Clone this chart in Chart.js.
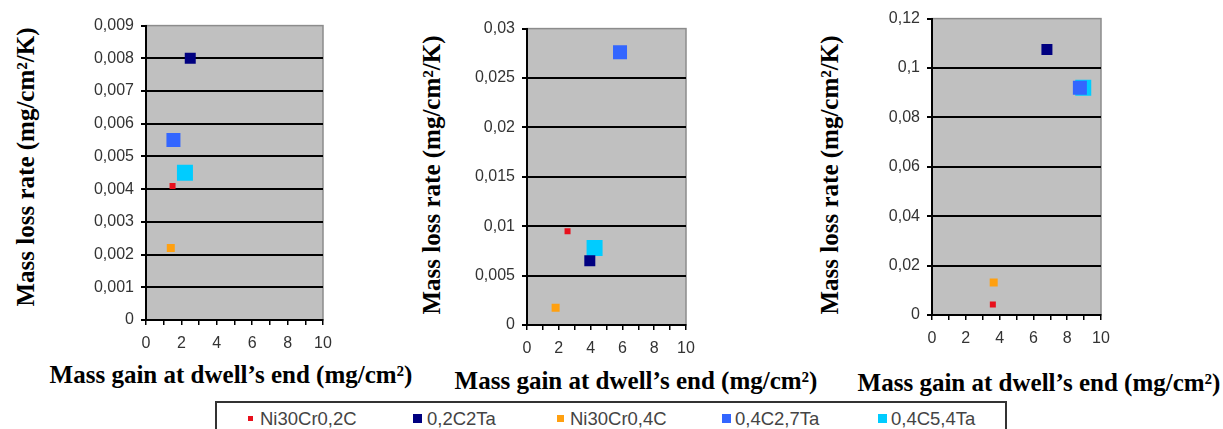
<!DOCTYPE html>
<html>
<head>
<meta charset="utf-8">
<script src="https://cdn.jsdelivr.net/npm/chart.js@4.4.1/dist/chart.umd.min.js"></script>
<style>
  html, body { margin: 0; padding: 0; background: #ffffff; }
  #wrap { position: relative; width: 1223px; height: 429px; overflow: hidden; background: #ffffff; }
  canvas { position: absolute; }
  .ttl { position: absolute; white-space: nowrap; font-family: "Liberation Serif", "Times New Roman", serif; font-weight: bold; font-size: 25px; color: #000; line-height: 1; }
  .ytl { transform: translate(-50%, -50%) rotate(-90deg); }
  .xtl { transform: translate(-50%, -50%); }
  #legend { position: absolute; left: 215px; top: 401px; width: 792px; height: 40px; border: 2px solid #333; box-sizing: border-box; }
  #legend .item { position: absolute; top: 6px; display: flex; align-items: center; font-family: "Liberation Sans", Arial, sans-serif; font-size: 18.5px; color: #444; line-height: 19px; white-space: nowrap; }
  #legend .mk { display: inline-block; }
</style>
</head>
<body>
<div id="wrap">
  <canvas id="c1"></canvas>
  <canvas id="c2"></canvas>
  <canvas id="c3"></canvas>
  <div id="legend"></div>
</div>
<script>
// ---- data ----
const seriesNames = ['Ni30Cr0,2C', '0,2C2Ta', 'Ni30Cr0,4C', '0,4C2,7Ta', '0,4C5,4Ta'];

const chart1X = [1.5, 2.5, 1.4, 1.55, 2.2];
const chart1Y = [0.0041, 0.008, 0.0022, 0.0055, 0.0045];

const chart2X = [2.55, 3.95, 1.8, 5.85, 4.25];
const chart2Y = [0.0095, 0.0065, 0.00175, 0.0276, 0.0078];

const chart3X = [3.6, 6.8, 3.65, 8.75, 8.95];
const chart3Y = [0.0043, 0.1075, 0.0132, 0.092, 0.092];

const xTitle = 'Mass gain at dwell\u2019s end (mg/cm\u00b2)';
const yTitle = 'Mass loss rate (mg/cm\u00b2/K)';

const yMax = [0.009, 0.03, 0.12];
const yStep = [0.001, 0.005, 0.02];
const xMax = 10;

// ---- styles ----
const seriesColors = ['#E8101C', '#000080', '#FFA010', '#3366FF', '#00CCFF'];
const pointSide = [6, 11, 8, 14, 16];
const legendSide = [5, 9, 7, 9, 9];
const legendLeft = [33, 198, 342, 507, 663];   // marker left, relative to legend box
const legendGap = [7, 5, 6, 4, 4];

// plot area boxes [left, right, top, bottom]
const boxes = [
  [146, 323, 25, 320],
  [527, 686, 28, 325],
  [932, 1101, 18, 315]
];
const yTitlePos = [[25, 167], [431, 175], [829, 175]];
const xTitlePos = [[231, 374], [636, 380], [1039, 382]];

const LEFT = 70, TOPPAD = 16, RIGHTPAD = 26, BOTTOM = 40;

function fmt(v) {
  let s = (+v.toFixed(5)).toString();
  return s.replace('.', ',');
}

const plotBg = {
  id: 'plotBg',
  beforeDraw(chart) {
    const a = chart.chartArea, ctx = chart.ctx;
    ctx.save();
    ctx.fillStyle = '#C0C0C0';
    ctx.fillRect(a.left, a.top, a.right - a.left, a.bottom - a.top);
    ctx.strokeStyle = '#8c8c8c';
    ctx.lineWidth = 1.5;
    ctx.strokeRect(a.left, a.top, a.right - a.left, a.bottom - a.top);
    ctx.restore();
  }
};

const allX = [chart1X, chart2X, chart3X];
const allY = [chart1Y, chart2Y, chart3Y];

for (let k = 0; k < 3; k++) {
  const [L, R, T, B] = boxes[k];
  const cv = document.getElementById('c' + (k + 1));
  const w = R - L + LEFT + RIGHTPAD;
  const h = B - T + TOPPAD + BOTTOM;
  cv.width = w; cv.height = h;
  cv.style.left = (L - LEFT) + 'px';
  cv.style.top = (T - TOPPAD) + 'px';
  cv.style.width = w + 'px'; cv.style.height = h + 'px';

  const datasets = seriesNames.map((name, i) => ({
    label: name,
    data: [{ x: allX[k][i], y: allY[k][i] }],
    backgroundColor: seriesColors[i],
    borderColor: seriesColors[i],
    borderWidth: 0,
    pointStyle: 'rect',
    pointRadius: pointSide[i] / Math.SQRT2,
    showLine: false
  }));

  const max = yMax[k];
  new Chart(cv, {
    type: 'scatter',
    data: { datasets },
    plugins: [plotBg],
    options: {
      responsive: false,
      animation: false,
      devicePixelRatio: 1,
      layout: { padding: { top: TOPPAD, right: RIGHTPAD, left: 0, bottom: 0 } },
      plugins: { legend: { display: false }, tooltip: { enabled: false } },
      scales: {
        x: {
          type: 'linear', min: 0, max: xMax,
          afterFit(s) { s.height = BOTTOM; },
          border: { display: true, color: '#000', width: 2 },
          grid: { drawOnChartArea: false, drawTicks: true, tickLength: 5, color: '#000', lineWidth: 1.5 },
          ticks: {
            stepSize: 1, autoSkip: false, maxRotation: 0, padding: 9,
            color: '#333', font: { family: 'Liberation Sans', size: 16 },
            callback: v => (Math.round(v) % 2 === 0 ? String(Math.round(v)) : '')
          }
        },
        y: {
          type: 'linear', min: 0, max: max,
          afterFit(s) { s.width = LEFT; },
          border: { display: true, color: '#000', width: 2 },
          grid: {
            drawOnChartArea: true, drawTicks: true, tickLength: 5, lineWidth: 2,
            tickColor: '#000',
            color: ctx => (ctx.tick && Math.abs(ctx.tick.value - max) < max * 1e-6) ? 'rgba(0,0,0,0)' : '#000'
          },
          ticks: {
            stepSize: yStep[k], autoSkip: false, padding: 7,
            color: '#333', font: { family: 'Liberation Sans', size: 16 },
            callback: v => fmt(v)
          }
        }
      }
    }
  });

  const yt = document.createElement('div');
  yt.className = 'ttl ytl';
  yt.textContent = yTitle;
  yt.style.left = yTitlePos[k][0] + 'px';
  yt.style.top = yTitlePos[k][1] + 'px';
  document.getElementById('wrap').appendChild(yt);

  const xt = document.createElement('div');
  xt.className = 'ttl xtl';
  xt.textContent = xTitle;
  xt.style.left = xTitlePos[k][0] + 'px';
  xt.style.top = xTitlePos[k][1] + 'px';
  document.getElementById('wrap').appendChild(xt);
}

// legend built from the series arrays
const legend = document.getElementById('legend');
seriesNames.forEach((name, i) => {
  const it = document.createElement('div');
  it.className = 'item';
  it.style.left = (legendLeft[i] - 2) + 'px';
  const mk = document.createElement('span');
  mk.className = 'mk';
  mk.style.width = legendSide[i] + 'px';
  mk.style.height = legendSide[i] + 'px';
  mk.style.marginRight = legendGap[i] + 'px';
  mk.style.background = seriesColors[i];
  const tx = document.createElement('span');
  tx.textContent = name;
  it.appendChild(mk); it.appendChild(tx);
  legend.appendChild(it);
});
</script>
</body>
</html>
